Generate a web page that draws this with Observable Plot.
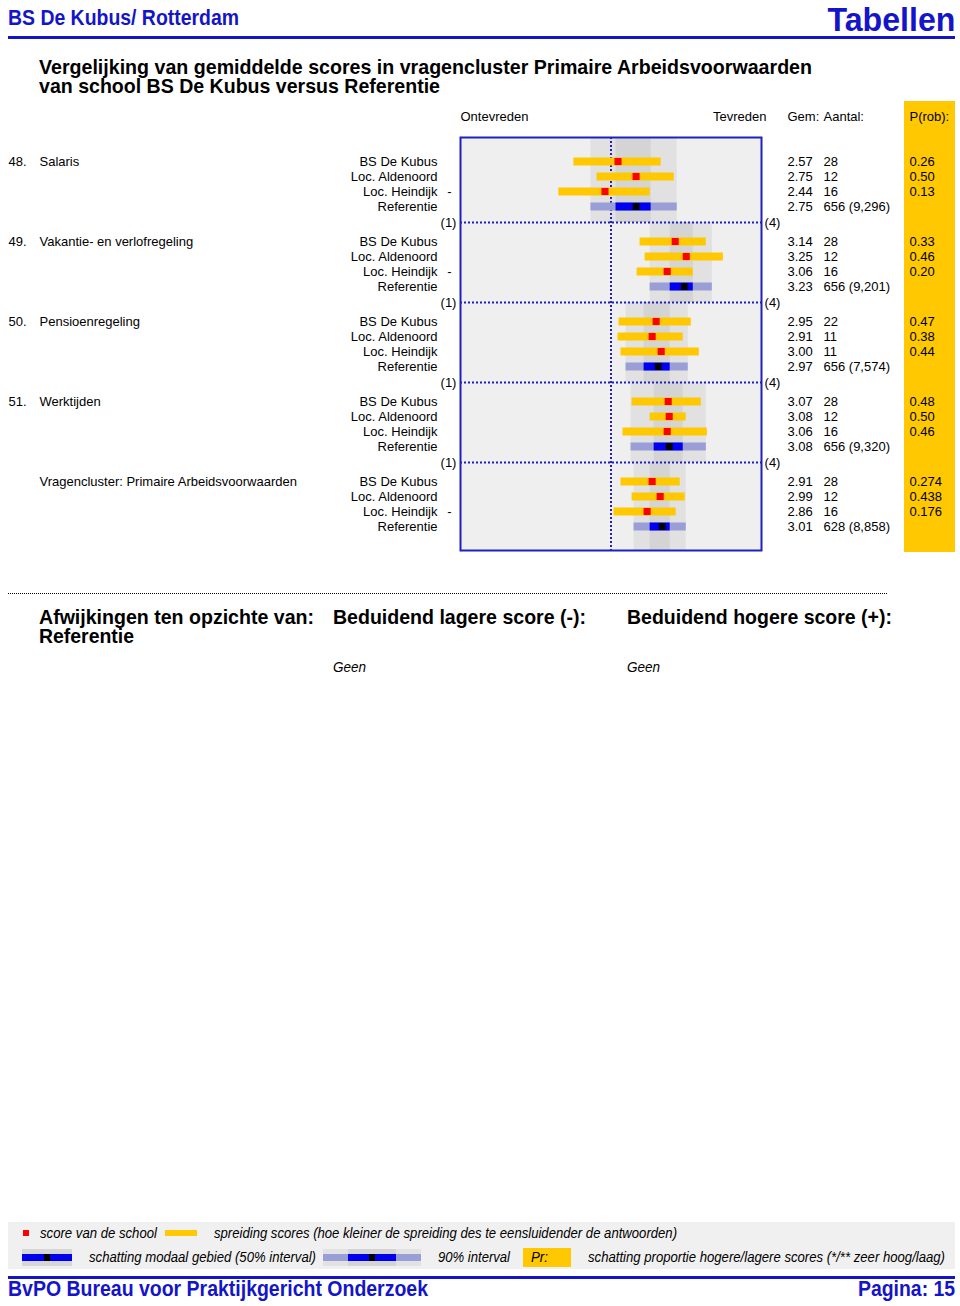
<!DOCTYPE html>
<html><head><meta charset="utf-8">
<script src="https://cdn.jsdelivr.net/npm/d3@7"></script>
<script src="https://cdn.jsdelivr.net/npm/@observablehq/plot@0.6"></script>
<style>
body{margin:0;background:#fff;font-family:"Liberation Sans",Arial,sans-serif;}
#page{position:relative;width:960px;height:1306px;overflow:hidden;}
.abs{position:absolute;white-space:nowrap;}
.blue{color:#1414c8;}
.h{font-weight:bold;font-size:21px;line-height:18px;}
.t{font-weight:bold;font-size:22px;line-height:24px;}
.it{font-style:italic;font-size:14px;line-height:16px;}
</style></head><body><div id="page">
<div class="abs blue t fit" data-w="231" style="left:8px;top:6px;">BS De Kubus/ Rotterdam</div>
<div class="abs blue fit" data-w="128" data-o="right" style="right:5px;top:0px;font-size:34px;line-height:38px;font-weight:bold;">Tabellen</div>
<div class="abs" style="left:8px;top:36px;width:947px;height:3px;background:#1414c8"></div>
<div class="abs h fit" data-w="773" style="left:39px;top:58px;">Vergelijking van gemiddelde scores in vragencluster Primaire Arbeidsvoorwaarden</div>
<div class="abs h fit" data-w="401" style="left:39px;top:77px;">van school BS De Kubus versus Referentie</div>
<div class="abs" style="left:904px;top:101px;width:51px;height:451px;background:#ffc800"></div>
<div class="abs" id="chart" style="left:0;top:95px;"></div>

<div class="abs" style="left:8px;top:593px;width:879px;border-top:1px dotted #000;"></div>
<div class="abs h fit" data-w="275" style="left:39px;top:608px;">Afwijkingen ten opzichte van:</div>
<div class="abs h fit" data-w="95" style="left:39px;top:627px;">Referentie</div>
<div class="abs h fit" data-w="253" style="left:333px;top:608px;">Beduidend lagere score (-):</div>
<div class="abs h fit" data-w="265" style="left:627px;top:608px;">Beduidend hogere score (+):</div>
<div class="abs it fit" data-w="33" style="left:333px;top:659px;">Geen</div>
<div class="abs it fit" data-w="33" style="left:627px;top:659px;">Geen</div>

<div class="abs" style="left:8px;top:1222px;width:947px;height:47px;background:#f0f0f0"></div>
<div class="abs" style="left:23px;top:1230px;width:6px;height:6px;background:#ff0000"></div>
<div class="abs it fit" data-w="117" style="left:40px;top:1225px;">score van de school</div>
<div class="abs" style="left:165px;top:1230px;width:32px;height:6px;background:#ffc800"></div>
<div class="abs it fit" data-w="463" style="left:214px;top:1225px;">spreiding scores (hoe kleiner de spreiding des te eensluidender de antwoorden)</div>
<div class="abs" style="left:22px;top:1249px;width:50px;height:17px;background:#d6d6d6"></div>
<div class="abs" style="left:22px;top:1254px;width:50px;height:7px;background:#0000ee"></div>
<div class="abs" style="left:44px;top:1254px;width:6px;height:7px;background:#000"></div>
<div class="abs it fit" data-w="227" style="left:89px;top:1249px;">schatting modaal gebied (50% interval)</div>
<div class="abs" style="left:323px;top:1249px;width:98px;height:17px;background:#e2e2e2"></div>
<div class="abs" style="left:348px;top:1249px;width:48px;height:17px;background:#d4d4d4"></div>
<div class="abs" style="left:323px;top:1254px;width:98px;height:7px;background:#9a9ed6"></div>
<div class="abs" style="left:348px;top:1254px;width:48px;height:7px;background:#0000ee"></div>
<div class="abs" style="left:369px;top:1254px;width:6px;height:7px;background:#000"></div>
<div class="abs it fit" data-w="72" style="left:438px;top:1249px;">90% interval</div>
<div class="abs" style="left:523px;top:1248px;width:48px;height:19px;background:#ffc800"></div>
<div class="abs it fit" data-w="17" style="left:531px;top:1249px;">Pr:</div>
<div class="abs it fit" data-w="357" style="left:588px;top:1249px;">schatting proportie hogere/lagere scores (*/** zeer hoog/laag)</div>
<div class="abs" style="left:8px;top:1276px;width:947px;height:3px;background:#1414c8"></div>
<div class="abs blue t fit" data-w="420" style="left:8px;top:1277px;">BvPO Bureau voor Praktijkgericht Onderzoek</div>
<div class="abs blue t fit" data-w="97" data-o="right" style="right:5px;top:1277px;">Pagina: 15</div>
</div>
<script>
// ---- data ----
const items = ["48.", "49.", "50.", "51.", ""];
const itemLabels = ["Salaris", "Vakantie- en verlofregeling", "Pensioenregeling", "Werktijden", "Vragencluster: Primaire Arbeidsvoorwaarden"];
const groups = ["BS De Kubus", "Loc. Aldenoord", "Loc. Heindijk", "Referentie"];
const gem = [
  [2.57, 2.75, 2.44, 2.75],
  [3.14, 3.25, 3.06, 3.23],
  [2.95, 2.91, 3.00, 2.97],
  [3.07, 3.08, 3.06, 3.08],
  [2.91, 2.99, 2.86, 3.01]
];
const aantal = [
  ["28", "12", "16", "656 (9,296)"],
  ["28", "12", "16", "656 (9,201)"],
  ["22", "11", "11", "656 (7,574)"],
  ["28", "12", "16", "656 (9,320)"],
  ["28", "12", "16", "628 (8,858)"]
];
const prob = [
  ["0.26", "0.50", "0.13", ""],
  ["0.33", "0.46", "0.20", ""],
  ["0.47", "0.38", "0.44", ""],
  ["0.48", "0.50", "0.46", ""],
  ["0.274", "0.438", "0.176", ""]
];
const signif = [
  ["", "", "-", ""],
  ["", "", "-", ""],
  ["", "", "", ""],
  ["", "", "", ""],
  ["", "", "-", ""]
];
// spread of school scores (low, high) per item, per school
const spreadLo = [
  [2.13, 2.36, 1.98],
  [2.79, 2.84, 2.76],
  [2.58, 2.57, 2.60],
  [2.71, 2.89, 2.62],
  [2.60, 2.71, 2.53]
];
const spreadHi = [
  [3.00, 3.13, 2.89],
  [3.45, 3.62, 3.32],
  [3.30, 3.22, 3.38],
  [3.40, 3.25, 3.46],
  [3.19, 3.24, 3.15]
];
// reference intervals
const ref90Lo = [2.30, 2.89, 2.65, 2.70, 2.73];
const ref90Hi = [3.16, 3.51, 3.27, 3.45, 3.25];
const ref50Lo = [2.55, 3.09, 2.83, 2.93, 2.89];
const ref50Hi = [2.90, 3.32, 3.09, 3.22, 3.09];
const scaleLabels = ["(1)", "(4)"];
const headers = {low: "Ontevreden", high: "Tevreden", gem: "Gem:", n: "Aantal:", p: "P(rob):"};

// ---- layout helpers (row slots) ----
const ROW = 15, BLOCK = 80, FIRST = 24, TOTAL = 413;
const rowY = (i, r) => FIRST + BLOCK * i + ROW * r;
const rows = [];
items.forEach((it, i) => groups.forEach((g, r) => rows.push({
  i, r, group: g, y: rowY(i, r), gem: gem[i][r], n: aantal[i][r], p: prob[i][r], sig: signif[i][r],
  lo: r < 3 ? spreadLo[i][r] : null, hi: r < 3 ? spreadHi[i][r] : null
})));
const school = rows.filter(d => d.r < 3);
const ref = rows.filter(d => d.r === 3).map(d => ({...d, lo90: ref90Lo[d.i], hi90: ref90Hi[d.i], lo50: ref50Lo[d.i], hi50: ref50Hi[d.i]}));
const blocks = items.map((it, i) => ({
  i, num: it, label: itemLabels[i], y: rowY(i, 0),
  y1: i === 0 ? 0 : BLOCK * i + 5, y2: i === items.length - 1 ? TOTAL : BLOCK * (i + 1) + 5,
  lo90: ref90Lo[i], hi90: ref90Hi[i], lo50: ref50Lo[i], hi50: ref50Hi[i]
}));
const seps = blocks.slice(0, -1).map(b => ({y: b.y2}));

const BLUE = "#2020c0";
const fs = 13;
const hdr = {dy: -21, lineAnchor: "middle", fontSize: fs};
const chart = Plot.plot({
  width: 960, height: 465,
  marginLeft: 460, marginRight: 199, marginTop: 42, marginBottom: 10,
  x: {domain: [1, 4], axis: null},
  y: {domain: [0, TOTAL], range: [42, 455], axis: null},
  style: {background: "none", fontFamily: "'Liberation Sans', Arial, sans-serif", fontSize: "13px", color: "#000"},
  marks: [
    Plot.frame({fill: "#efefef", stroke: null}),
    Plot.rect(blocks, {x1: "lo90", x2: "hi90", y1: "y1", y2: "y2", fill: "#e1e1e1"}),
    Plot.rect(blocks, {x1: "lo50", x2: "hi50", y1: "y1", y2: "y2", fill: "#d4d4d4"}),
    Plot.ruleX([2.5], {stroke: BLUE, strokeWidth: 2, strokeDasharray: "2,2"}),
    Plot.ruleY(seps, {y: "y", stroke: BLUE, strokeWidth: 2, strokeDasharray: "2,2"}),
    Plot.ruleY(school, {y: "y", x1: "lo", x2: "hi", stroke: "#ffc800", strokeWidth: 8}),
    Plot.dot(school, {x: "gem", y: "y", symbol: "square", r: 4, fill: "#ff0000", stroke: null}),
    Plot.ruleY(ref, {y: "y", x1: "lo90", x2: "hi90", stroke: "#9a9ed6", strokeWidth: 8}),
    Plot.ruleY(ref, {y: "y", x1: "lo50", x2: "hi50", stroke: "#0000ee", strokeWidth: 8}),
    Plot.dot(ref, {x: "gem", y: "y", symbol: "square", r: 3.8, fill: "#000", stroke: null}),
    Plot.frame({stroke: BLUE, strokeWidth: 2}),
    // header row
    Plot.text([headers.low], {frameAnchor: "top-left", textAnchor: "start", ...hdr}),
    Plot.text([headers.high], {frameAnchor: "top-right", dx: 5, textAnchor: "end", ...hdr}),
    Plot.text([headers.gem], {frameAnchor: "top-right", dx: 26, textAnchor: "start", ...hdr}),
    Plot.text([headers.n], {frameAnchor: "top-right", dx: 62, textAnchor: "start", ...hdr}),
    Plot.text([headers.p], {frameAnchor: "top-right", dx: 148, textAnchor: "start", ...hdr}),
    // item labels
    Plot.text(blocks, {y: "y", text: "num", frameAnchor: "left", dx: -452, textAnchor: "start", fontSize: fs}),
    Plot.text(blocks, {y: "y", text: "label", frameAnchor: "left", dx: -421, textAnchor: "start", fontSize: fs}),
    Plot.text(rows, {y: "y", text: "group", frameAnchor: "left", dx: -23, textAnchor: "end", fontSize: fs}),
    Plot.text(rows, {y: "y", text: "sig", frameAnchor: "left", dx: -11, textAnchor: "middle", fontSize: fs}),
    Plot.text(rows, {y: "y", text: d => d.gem.toFixed(2), frameAnchor: "right", dx: 26, textAnchor: "start", fontSize: fs}),
    Plot.text(rows, {y: "y", text: "n", frameAnchor: "right", dx: 62, textAnchor: "start", fontSize: fs}),
    Plot.text(rows, {y: "y", text: "p", frameAnchor: "right", dx: 148, textAnchor: "start", fontSize: fs}),
    Plot.text(seps, {y: "y", text: () => scaleLabels[0], frameAnchor: "left", dx: -12, textAnchor: "middle", fontSize: fs}),
    Plot.text(seps, {y: "y", text: () => scaleLabels[1], frameAnchor: "right", dx: 11, textAnchor: "middle", fontSize: fs})
  ]
});
document.getElementById("chart").appendChild(chart);

// condense HTML headings to the widths they take in the reference
function fit() {
  document.querySelectorAll(".fit").forEach(el => {
    el.style.transform = "none";
    const w = el.getBoundingClientRect().width;
    const target = +el.dataset.w;
    if (w > 0) {
      el.style.transformOrigin = el.dataset.o === "right" ? "right center" : "left center";
      el.style.transform = `scaleX(${target / w})`;
    }
  });
}
fit();
if (document.fonts && document.fonts.ready) document.fonts.ready.then(fit);
</script>
</body></html>
